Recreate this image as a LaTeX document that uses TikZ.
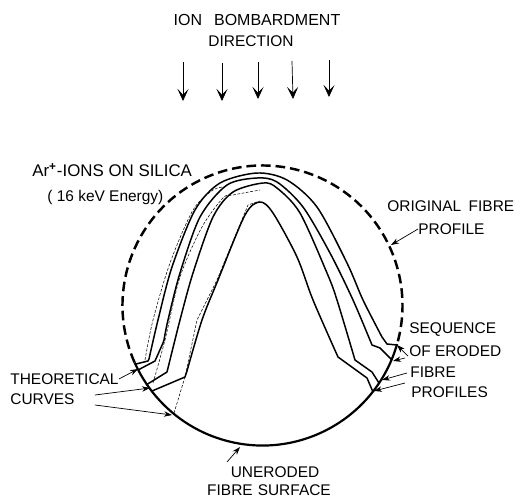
\documentclass[tikz,border=0pt]{standalone}
\usepackage{fontspec}
\setmainfont{Liberation Sans}
\usetikzlibrary{arrows.meta, positioning}
\tikzset{
  lbl/.style={anchor=west, inner sep=0pt, font=\fontsize{8.8}{10}\selectfont},
  ctr/.style={anchor=center, inner sep=0pt, font=\fontsize{8.8}{10}\selectfont},
  profile/.style={line width=0.85pt, line join=round},
  theory/.style={line width=0.3pt, dash pattern=on 1.6pt off 0.9pt},
  fibredash/.style={line width=1.4pt, dash pattern=on 5.5pt off 2.8pt},
  fibresolid/.style={line width=1.25pt},
  ionarr/.style={-{Stealth[length=2.4mm, width=2.2mm, inset=1.1mm]}, line width=0.4pt},
  lead/.style={-{Stealth[length=1.6mm, width=1.1mm]}, line width=0.4pt},
}
\begin{document}
\begin{tikzpicture}[x=0.02cm, y=-0.02cm]
\useasboundingbox (0,0) rectangle (521,498);
% Heading and ion beam
\node[ctr, font=\fontsize{9.1}{10}\selectfont] (ion) at (257,20) {ION\hspace{2.4mm}BOMBARDMENT};
\node[ctr] (dir) at (251,41) {DIRECTION};
\foreach \nx/\ny/\ex/\ey in {183/62/183/101, 222/63/222/101, 258/62/258/99, 292/61/293/99, 329/60/329/97}
  \draw[ionarr] (\nx,\ny) -- (\ex,\ey);

% Original fibre outline
\coordinate (centre) at (262.5,305.5);
\draw[fibredash] (centre) ++(156:140) arc[start angle=156, end angle=376, radius=140];
\draw[fibresolid] (centre) ++(16:140) arc[start angle=16, end angle=156, radius=140];

% Eroded profiles
\draw[profile] (136,364) -- (148,361) -- plot[smooth] coordinates {(149,359) (158,320) (172,267) (195,210) (220,183) (257,173) (287,180) (317,207) (347,263) (363,300) (382,337)} -- (387,344) -- (397,345);
\draw[profile] (138,370) -- (155,361) -- (163,343) -- plot[smooth] coordinates {(164,340) (168,320) (180,273) (200,217) (227,185) (257,178) (277,182) (303,207) (330,253) (353,300) (372,345)} -- (380,348) -- (392,360);
\draw[profile] (146,385) -- (167,372) -- plot[smooth] coordinates {(168,368) (180,320) (193,273) (213,217) (233,192) (263,183) (277,188) (300,213) (327,273) (337,300) (355,360)} -- (372,372) -- (379,383);
\draw[profile] (152,391) -- (185,377) -- plot[smooth] coordinates {(187,371) (202,320) (218,280) (245,215) (260,202) (273,213) (297,257) (313,300) (338,357)} -- (367,378) -- (373,392);

% Theoretical curves
\draw[theory] plot[smooth] coordinates {(145,360) (153,320) (170,263) (193,210) (213,190) (225,187)};
\draw[theory] plot[smooth] coordinates {(153,383) (165,340) (180,277) (202,227) (223,198) (233,195) (260,190)};
\draw[theory] (174,413) -- (185,377) -- (197,320) -- (217,280) -- (248,205) -- (260,201);

% Labels
\node[lbl, font=\fontsize{9.6}{11}\selectfont] (ar) at (32,170) {Ar\textsuperscript{\textbf{+}}-IONS ON SILICA};
\node[lbl] (kev) at (47,197) {( 16 keV Energy)};
\node[lbl] (orig) at (387,206) {ORIGINAL\hspace{1.5mm}FIBRE};
\node[lbl] (prof) at (418,229) {PROFILE};
\node[lbl] (theor) at (10,379) {THEORETICAL};
\node[lbl] (curv) at (10,399) {CURVES};
\node[lbl] (seq) at (409,330) {SEQUENCE};
\node[lbl] (ofer) at (409,351) {OF ERODED};
\node[lbl] (fib) at (410,372) {FIBRE};
\node[lbl] (pro) at (411,392) {PROFILES};
\node[ctr] (uner) at (275,472) {UNERODED};
\node[ctr] (surf) at (269,490) {FIBRE\hspace{1mm}SURFACE};

% Leaders
\coordinate (tipO) at (391,245);
\coordinate (tipT) at (138,369);
\coordinate (tipTb) at (150,388);
\coordinate (tipTc) at (172,415);
\coordinate (tailTb) at (95,395);
\coordinate (tailTc) at (95,405);
\coordinate (tailU) at (227,462);
\coordinate (tipU) at (240,447);
\coordinate (tailSa) at (408,356);
\coordinate (tipSa) at (397,345);
\coordinate (tailSb) at (405,358);
\coordinate (tipSb) at (393,361);
\coordinate (tailSc) at (407,373);
\coordinate (tipSc) at (382,380);
\coordinate (tailSd) at (405,383);
\coordinate (tipSd) at (374,391);
\draw[lead] (prof.west) -- (tipO);
\draw[lead] (theor.east) -- (tipT);
\draw[lead] (tailTb) -- (tipTb);
\draw[lead] (tailTc) -- (tipTc);
\draw[lead] (tailU) -- (tipU);
\draw[lead] (tailSa) -- (tipSa);
\draw[lead] (tailSb) -- (tipSb);
\draw[lead] (tailSc) -- (tipSc);
\draw[lead] (tailSd) -- (tipSd);
\end{tikzpicture}
\end{document}
